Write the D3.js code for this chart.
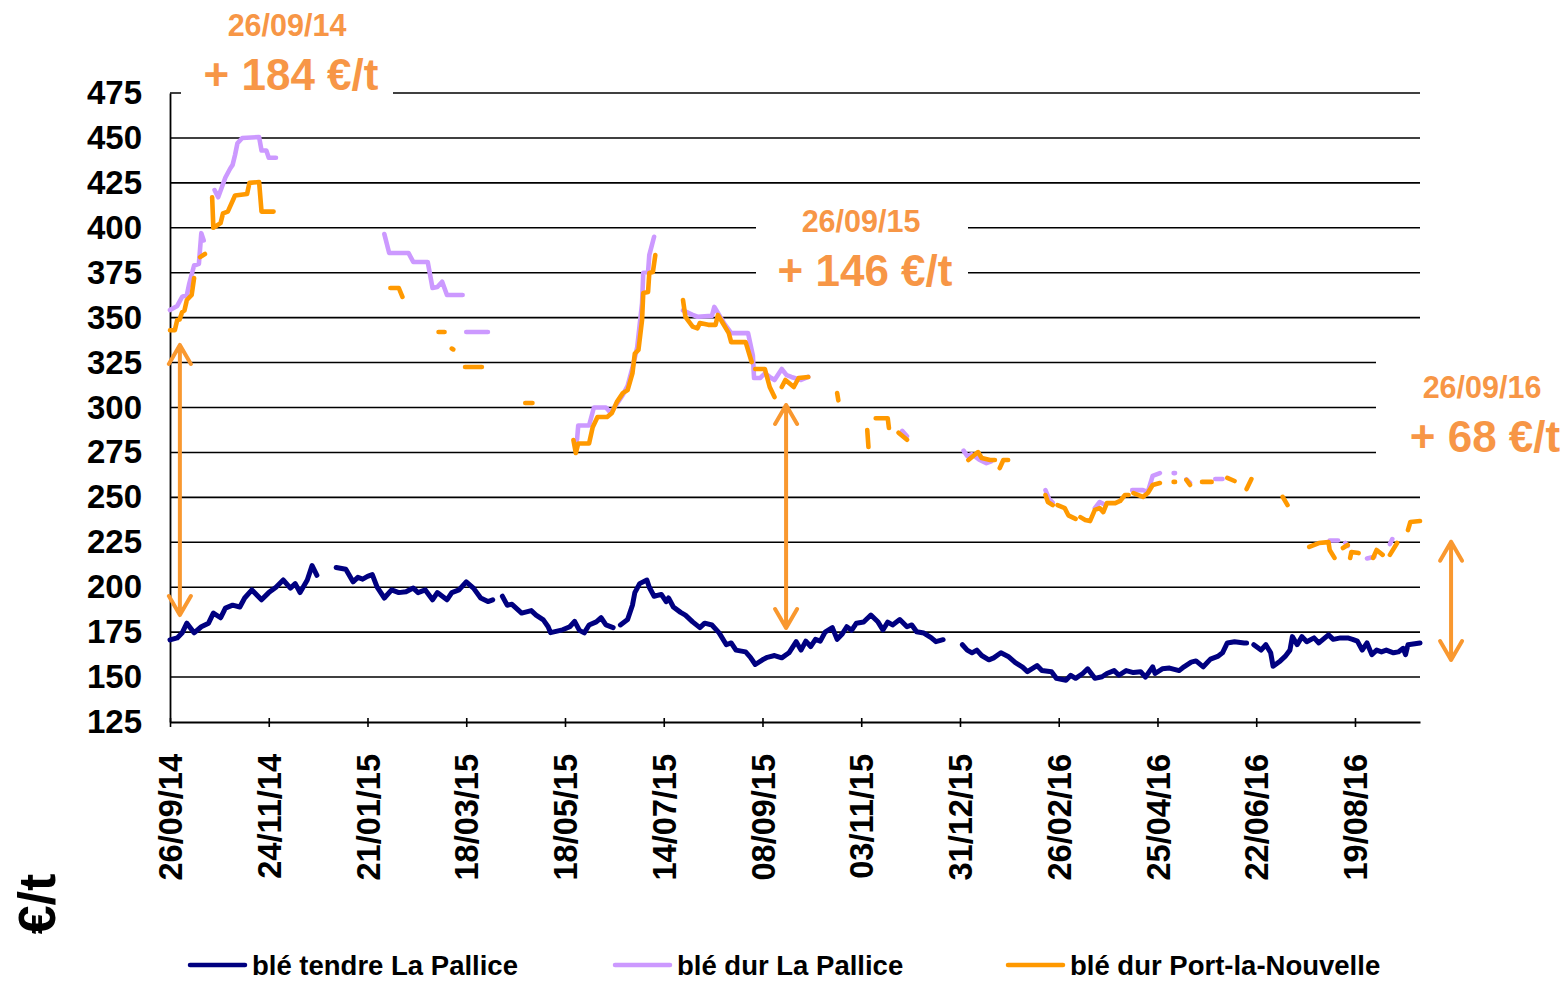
<!DOCTYPE html>
<html>
<head>
<meta charset="utf-8">
<script src="https://cdn.jsdelivr.net/npm/d3@7"></script>
<style>
  body { margin: 0; background: #fff; }
  svg { display: block; }
  text { font-family: "Liberation Sans", Arial, sans-serif; font-weight: bold; }
</style>
</head>
<body>
<svg id="chart" width="1567" height="981"></svg>
<script>
// ---- Data: prices in €/t, x = trading-day index from 26/09/14 ----
const tickLabels = ["26/09/14", "24/11/14", "21/01/15", "18/03/15", "18/05/15", "14/07/15",
  "08/09/15", "03/11/15", "31/12/15", "26/02/16", "25/04/16", "22/06/16", "19/08/16"];
const daysPerTick = 41;
const lastDay = 519;
const yTicks = [125, 150, 175, 200, 225, 250, 275, 300, 325, 350, 375, 400, 425, 450, 475];

// blé tendre La Pallice
const bleTendre = [[0,170.7],[3,171.8],[5,174.5],[7,180],[10,174.6],[13,178],[16,180],[18,185.6],[21,183],[23,188.4],[26,190],[29,189],[31,194],[34,198.5],[38,193],[41,197],[44,200],[47,204],[50,199.5],[52,202],[54,197],[57,204],[59,212],[61,206.6],[63,null],
  [69,211],[73,210],[76,203],[78,205.5],[80,204.5],[82,206],[84,207],[86,200],[89,194],[92,198.5],[95,197],[98,197.5],[101,199.5],[103,197],[106,198.5],[109,193],[111,197],[115,193],[117,197],[120,198.5],[123,203],[126,199.5],[129,194],[132,192],[134,193],[136,null],
  [138,195],[140,190],[142,190.5],[146,185.6],[150,187],[152,184.5],[155,181.8],[157,178],[158,174.7],[163,176.3],[166,178],[168,181],[170,176],[172,174.6],[174,179],[177,180.7],[179,183],[181,179],[184,177.5],[185.5,null],
  [187,179],[190,182],[192,190],[193,197],[195,202],[198,204],[199,200],[201,195],[204,196],[206,192],[207,194],[209,189],[212,186],[214,184.5],[217,180.7],[220,177.5],[222,180],[225,179],[228,174.6],[231,168],[233,169],[235,165],[239,164],[241,161],[243,157],[246,159.6],[248,161],[251,162],[254,160.7],[257,163.5],[260,169.7],[262,165],[264,170],[266,167],[268,171],[270,170],[272,175],[275,177.5],[277,171],[279,173.8],[281,178],[283,176],[285,180],[288,180.6],[291,184.5],[294,180.6],[296,176.2],[298,180.6],[300,179],[303,182],[306,178],[308,179],[310,175.2],[313,174.5],[316,172],[318,169.7],[321,170.8],[322,null],
  [329,168],[331,165],[333,163.5],[335,165],[337,162],[340,159.6],[342,160.7],[345,163.5],[348,161.5],[351,158],[354,155.5],[356,153],[360,156.4],[362,153.6],[366,153],[368,149.3],[372,148.2],[374,151],[376,149.3],[379,152],[381,154.6],[384,149.3],[387,150.2],[389,152],[392,153.6],[394,151],[397,153.6],[400,152.5],[403,153],[405,150],[408,155.7],[409,152],[412,154.6],[415,155],[419,153.6],[421,155.7],[424,158.3],[426,159],[429,155.7],[432,160],[435,161.5],[437,163.5],[439,169],[442,169.7],[446,169],[447,169],[448.5,null],
  [450,168],[453,165],[455,168],[457,163.5],[458,156],[461,159],[463,161.5],[465,165],[466,172.5],[468,168],[470,172.5],[472,169.7],[475,171.8],[477,169],[481,173.5],[483,171],[486,171.8],[489,171.8],[491,171],[493,170],[495,165],[497,169],[499,162.5],[501,165],[503,164],[505,165],[508,163.5],[510,164],[512,166],[513,162.5],[514,168],[519,169]];

// blé dur La Pallice
const bleDurPallice = [[0,354.2],[3,356.5],[5,361.5],[7,362.6],[8,369],[10,379],[12,380],[13,397],[14,393],[16,null],
  [18.5,421],[20,417],[23,428],[25,433],[26,435],[27,440.5],[28,447],[30,450],[37,450.5],[38,443],[40,443],[41,439],[44,439],[45,null],
  [89,396.5],[91,386],[99,386],[101,381],[107,381],[109,366.5],[111,367],[113,370],[115,362.6],[121.5,362.6],[122,null],
  [123,342],[132,342],[133,null],
  [169,282],[169.5,290],[174,290],[176,300],[181,300],[183,297],[186,303],[188,307],[190,312],[192,322],[194,333.6],[196,358],[196.5,375],[198.5,375.4],[199,384.8],[201,395],[202,null],
  [213,354],[217,351.5],[219,350.5],[225,351],[226,356],[228,351.5],[230,347],[233,341.4],[240,341.4],[242,329],[242.5,316.4],[245,316.4],[247,319],[249,317],[251,315.3],[254,321.4],[256,318],[258,317],[262,315.3],[265,317],[266,null],
  [304,287],[306,284],[307,null],
  [329.5,276],[331,273],[333,274],[336,271],[339,269],[341,270],[342,null],
  [363.5,254],[365,249],[366.5,247],[367,null],
  [384,244],[386,247.4],[388,246],[389,null],
  [399.5,254],[404,254],[406,253],[408,262],[411,263.5],[412,null],
  [416.7,263.5],[417.3,263.5],[418,null],
  [422,260],[423.5,258],[424,null],
  [434,260.2],[437,260.2],[438,null],
  [481.5,226],[485,226],[486,null],
  [488,224.6],[489,223],[489.5,null],
  [497,216],[500,217],[501,null],
  [506.5,224],[507.5,226.8]];

// blé dur Port-la-Nouvelle
const bleDurPLN = [[0,343],[2,343],[3,348.7],[4,349],[5,353],[6,354],[7,359.8],[9,362.6],[10,372],[11,null],
  [12.5,383.7],[14.5,385.4],[15.5,null],
  [17.5,417],[18,400],[21,402.6],[22,408],[24,409],[27,418],[32,418.8],[33,425],[37,425.5],[38,409],[43,409],[44,null],
  [91.5,366.5],[95,366.5],[96.5,361.5],[97.5,null],
  [111.5,342],[114,342],[115,null],
  [117,332.8],[117.6,332.3],[118,null],
  [122.5,322.5],[129.5,322.5],[130,null],
  [147.5,302.5],[150.5,302.5],[151,null],
  [167.5,281.9],[168.5,274.7],[169.5,280],[174,280],[175.5,289],[177.5,294.7],[181.5,294.7],[183.5,297],[185.5,303],[188,308],[190,309.7],[192,319],[193,330],[194.5,332],[196,348.7],[196.5,363.7],[198.5,364.3],[199,374.8],[200.5,375.4],[201.5,384.8],[202.5,null],
  [213,359.8],[214,350.4],[217,345],[219,344],[220,347],[223.5,346],[226.5,346],[227.5,351.5],[229.5,347],[232,341.4],[233,336.4],[239,336.4],[240,332],[241.5,325.3],[242,null],
  [243,321.4],[247,321.4],[249,311.4],[251,305.8],[252,null],
  [254,311.4],[255.5,315.3],[259,311.4],[261,316.4],[265,317],[266,null],
  [277,308],[277.5,304],[278,null],
  [289.5,287.5],[290,278],[290.5,null],
  [293,294],[298,294],[298.5,288.6],[299,null],
  [302.5,286],[306,282],[307,null],
  [331.5,270.8],[335.5,275.2],[337,271.9],[340.5,270.8],[342.5,270.8],[343,null],
  [344.5,266.3],[346,270.8],[348,270.8],[349,null],
  [363.5,251.3],[364.5,247.4],[366.5,245.7],[367,null],
  [368.5,245.7],[371.5,244],[373,240],[376,238],[377,null],
  [378,239],[380,237.4],[382,236.8],[384,243],[386,244],[387.5,241.8],[389,246.8],[392.5,246.8],[394.5,248],[396.5,251.3],[398,251.3],[399,null],
  [400,252.4],[404,250.3],[406,252.4],[408,256.9],[411,258],[412,null],
  [416.7,258.6],[417.3,258.6],[418,null],
  [422,259.7],[423.5,256.9],[424,null],
  [428.5,258.6],[432.5,258.6],[433,null],
  [439,260.8],[442,259.1],[443,null],
  [447,254.6],[449,260.2],[450,null],
  [462,250.3],[464,245.7],[465,null],
  [473,222.4],[477,224.6],[481,225.1],[481.5,220.7],[483.5,216.3],[484.5,null],
  [487,221.8],[489,223.5],[489.5,null],
  [490,216.3],[490.5,219.6],[493.5,219],[494.5,null],
  [499.5,216.3],[501,220.7],[503.5,218],[504.5,null],
  [506.5,218],[509.5,224.6],[510.5,null],
  [514,231.8],[515,236.3],[519,236.8]];

// spread annotations: date, amount, and the double arrow (day, top value, bottom value)
const spreadDates = ["26/09/14", "26/09/15", "26/09/16"];
const spreadAmounts = ["+ 184 €/t", "+ 146 €/t", "+ 68 €/t"];
const spreadArrows = [[4.1, 334.8, 184.5], [255.8, 301.4, 177.3], [531.9, 225.3, 159.5]];

const seriesNames = ["blé tendre La Pallice", "blé dur La Pallice", "blé dur Port-la-Nouvelle"];
const seriesColors = ["#000080", "#CC99FF", "#FF9900"];

// ---- Layout ----
const svg = d3.select("#chart");
const plotLeft = 170, plotRight = 1420, plotTop = 93, plotBottom = 722;
const x = d3.scaleLinear().domain([0, lastDay]).range([plotLeft, plotRight]);
const y = d3.scaleLinear().domain([125, 475]).range([plotBottom, plotTop]);
const annotColor = "#F79646";
const arrowColor = "#F9982F";

// horizontal grid
svg.append("g").selectAll("line").data(yTicks.slice(1)).join("line")
  .attr("x1", plotLeft).attr("x2", plotRight)
  .attr("y1", d => y(d)).attr("y2", d => y(d))
  .attr("stroke", "#000").attr("stroke-width", 1.6);

// white label boxes that interrupt the grid
const boxes = [[181, 70, 212, 40], [756, 196, 212, 100], [1376, 336, 191, 134]];
svg.append("g").selectAll("rect").data(boxes).join("rect")
  .attr("x", d => d[0]).attr("y", d => d[1]).attr("width", d => d[2]).attr("height", d => d[3])
  .attr("fill", "#fff");

// axes
const yAxis = svg.append("g").attr("transform", `translate(${plotLeft},0)`)
  .call(d3.axisLeft(y).tickValues(yTicks).tickSize(0).tickPadding(28));
yAxis.select(".domain").attr("stroke", "#000").attr("stroke-width", 1.8);
yAxis.selectAll("text").attr("font-size", 33).attr("fill", "#000")
  .attr("font-family", "'Liberation Sans', Arial, sans-serif").attr("font-weight", "bold");

const xTickVals = tickLabels.map((_, i) => i * daysPerTick);
const xAxis = svg.append("g").attr("transform", `translate(0,${plotBottom})`)
  .call(d3.axisBottom(x).tickValues(xTickVals).tickSize(5).tickSizeOuter(0)
    .tickFormat((d, i) => tickLabels[i]));
xAxis.select(".domain").attr("stroke", "#000").attr("stroke-width", 1.8);
xAxis.selectAll(".tick line").attr("stroke", "#000").attr("stroke-width", 1.6).attr("y1", -4);
xAxis.selectAll("text")
  .attr("font-size", 32.5).attr("fill", "#000")
  .attr("font-family", "'Liberation Sans', Arial, sans-serif").attr("font-weight", "bold")
  .attr("transform", "rotate(-90)")
  .attr("text-anchor", "end")
  .attr("x", -32).attr("y", 0).attr("dy", "0.36em");

// series lines
const line = d3.line().defined(d => d[1] !== null).x(d => x(d[0])).y(d => y(d[1]));
const series = [bleDurPallice, bleDurPLN, bleTendre];
const colorsByDraw = [seriesColors[1], seriesColors[2], seriesColors[0]];
const widthsByDraw = [4.6, 4.6, 5];
svg.append("g").selectAll("path").data(series).join("path")
  .attr("d", line)
  .attr("fill", "none")
  .attr("stroke", (d, i) => colorsByDraw[i])
  .attr("stroke-width", (d, i) => widthsByDraw[i])
  .attr("stroke-linejoin", "round")
  .attr("stroke-linecap", "round");

// double arrows
const arrows = svg.append("g").attr("stroke", arrowColor).attr("stroke-width", 4)
  .attr("fill", "none").attr("stroke-linecap", "round").attr("stroke-linejoin", "round");
spreadArrows.forEach(([day, hi, lo]) => {
  const ax = x(day), y1 = y(hi), y2 = y(lo);
  arrows.append("path").attr("d",
    `M${ax},${y1}V${y2}` +
    `M${ax - 11},${y1 + 19}L${ax},${y1}L${ax + 11},${y1 + 19}` +
    `M${ax - 11},${y2 - 19}L${ax},${y2}L${ax + 11},${y2 - 19}`);
});

// spread labels
const labelPos = [[287, 36, 291, 90], [861, 232, 865, 286], [1482, 398, 1485, 452]];
labelPos.forEach(([dx, dy, ax, ay], i) => {
  svg.append("text").attr("x", dx).attr("y", dy).attr("text-anchor", "middle")
    .attr("font-size", 30.5).attr("fill", annotColor).text(spreadDates[i]);
  svg.append("text").attr("x", ax).attr("y", ay).attr("text-anchor", "middle")
    .attr("font-size", 44).attr("fill", annotColor).text(spreadAmounts[i]);
});

// y-axis unit
svg.append("text").attr("transform", "translate(36,904) rotate(-90)")
  .attr("text-anchor", "middle").attr("dy", "0.36em")
  .attr("font-size", 52).attr("fill", "#000").text("€/t");

// legend
const legendX = [190, 615, 1008];
const legend = svg.append("g").selectAll("g").data(seriesNames).join("g")
  .attr("transform", (d, i) => `translate(${legendX[i]},965)`);
legend.append("line").attr("x1", 0).attr("x2", 55)
  .attr("stroke", (d, i) => seriesColors[i]).attr("stroke-width", 4.5).attr("stroke-linecap", "round");
legend.append("text").attr("x", 62).attr("dy", "0.36em")
  .attr("font-size", 27.5).attr("fill", "#000").text(d => d);
</script>
</body>
</html>
